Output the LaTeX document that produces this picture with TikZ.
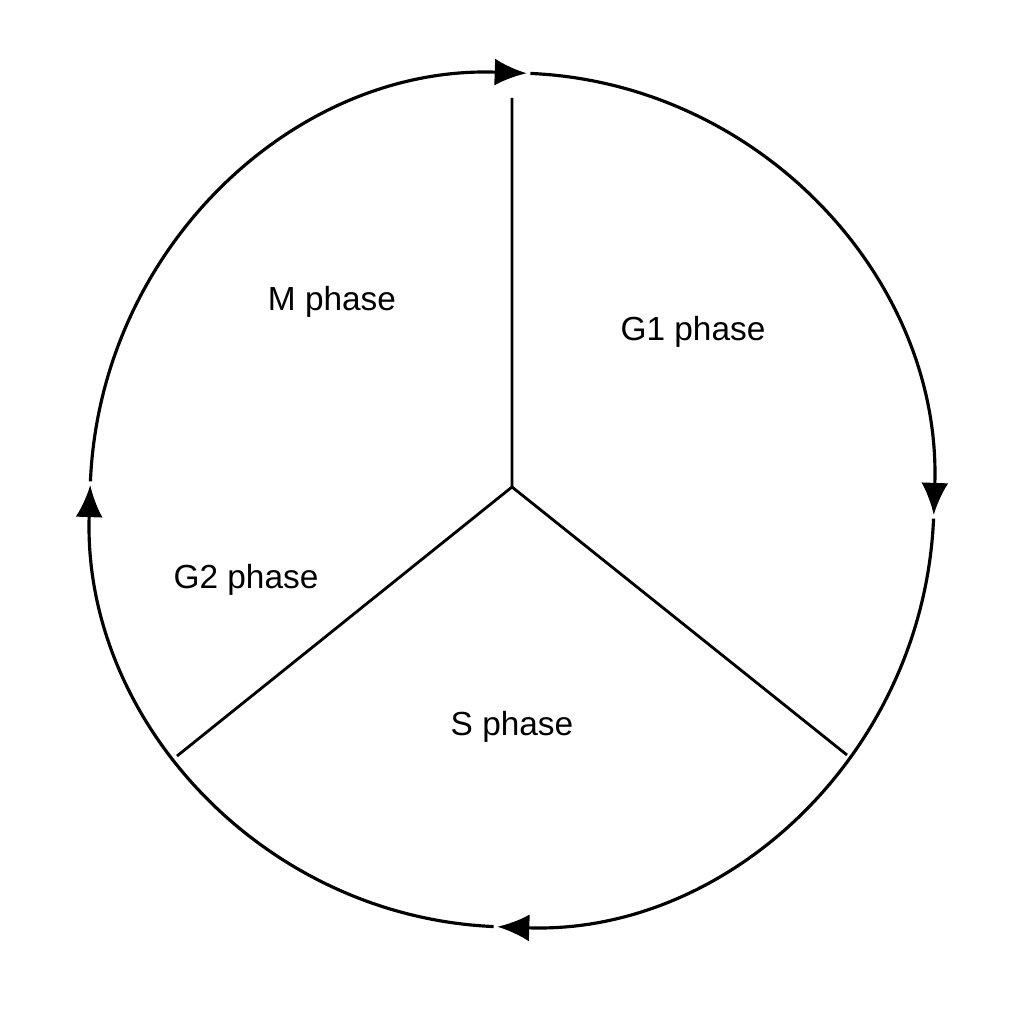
\documentclass[tikz,border=0pt]{standalone}
\usepackage{fontspec}
\setmainfont{Liberation Sans}
\usepackage{tikz}
\usetikzlibrary{arrows.meta}
\begin{document}
\begin{tikzpicture}[phase/.style={font=\fontsize{9.5}{11}\selectfont},
    cyc/.style={line width=0.9pt,-{Latex[length=3.2mm,width=2.7mm]}}]
        \useasboundingbox (0,0) rectangle (10.24,10.24);
        \coordinate (o) at (5.12,5.24);
        \coordinate (hub) at (5.12,5.37);
        \coordinate (top) at (5.12,9.26);
        \coordinate (sl) at (1.77,2.68);
        \coordinate (sr) at (8.47,2.69);
        \foreach \a in {0,90,180,270} {
            \draw[cyc,shift={(o)}] ({\a+87.5}:4.22 and 4.27) arc[start angle=\a+87.5, end angle=\a-2, x radius=4.22, y radius=4.27];
        }
        \draw[line width=0.8pt] (top) -- (hub) -- (sl);
        \draw[line width=0.8pt] (hub) -- (sr);
        \node[phase] (m) at (3.32,7.22) {M phase};
        \node[phase] (g1) at (6.93,6.92) {G1 phase};
        \node[phase] (g2) at (2.46,4.44) {G2 phase};
        \node[phase] (s) at (5.12,2.97) {S phase};
    \end{tikzpicture}
\end{document}
